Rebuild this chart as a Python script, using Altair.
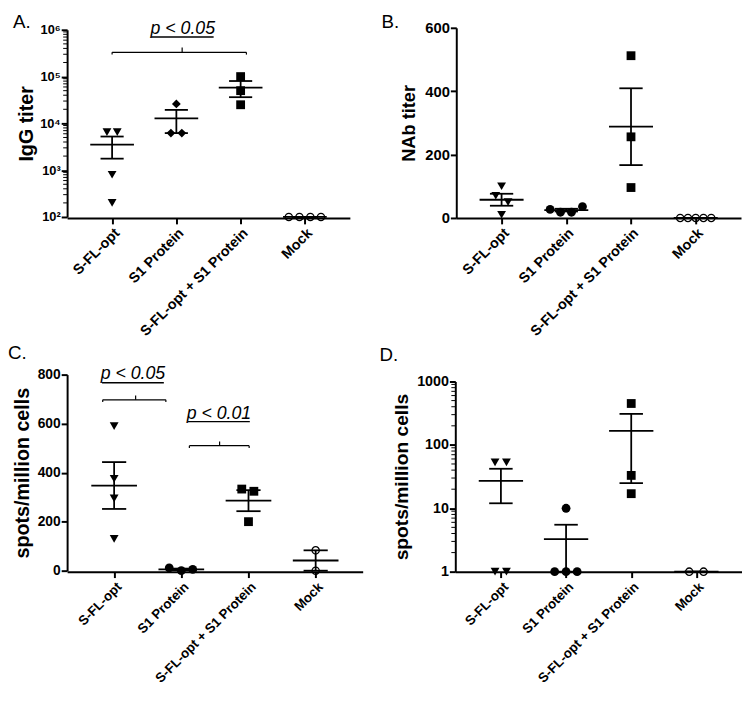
import json
import altair as alt
import numpy as np
import pandas as pd

FONT = "Liberation Sans"
INK = "#000000"

GROUPS = ["S-FL-opt", "S1 Protein", "S-FL-opt + S1 Protein", "Mock"]

# ---------------- Panel A: IgG titer (log) ----------------
A_sflopt = [6500, 6500, 800, 200]
A_sflopt_jit = [-0.08, 0.08, 0.0, 0.0]
A_s1 = [26000, 6200, 6200]
A_s1_jit = [0.0, -0.085, 0.085]
A_combo = [100000, 50000, 25000]
A_combo_jit = [0.0, 0.0, 0.0]
A_mock = [100, 100, 100, 100]
A_mock_jit = [-0.25, -0.085, 0.085, 0.25]

# ---------------- Panel B: NAb titer ----------------
B_sflopt = [100, 70, 50, 10]
B_sflopt_jit = [0.0, -0.09, 0.10, 0.0]
B_s1 = [27, 18, 18, 36]
B_s1_jit = [-0.25, -0.09, 0.08, 0.25]
B_combo = [512, 256, 96]
B_combo_jit = [0.0, 0.0, 0.0]
B_mock = [0, 0, 0, 0, 0]
B_mock_jit = [-0.24, -0.12, 0.0, 0.12, 0.24]

# ---------------- Panel C: spots/million cells ----------------
C_sflopt = [590, 375, 295, 130]
C_sflopt_jit = [0.0, 0.0, 0.0, 0.0]
C_s1 = [11, 0, 5]
C_s1_jit = [-0.18, 0.0, 0.17]
C_combo = [333, 324, 200]
C_combo_jit = [-0.10, 0.08, 0.0]
C_mock = [83, 0]
C_mock_jit = [0.0, 0.0]

# ---------------- Panel D: spots/million cells (log) ----------------
D_sflopt = [53, 53, 1, 1]
D_sflopt_jit = [-0.09, 0.085, -0.09, 0.085]
D_s1 = [10, 1, 1, 1]
D_s1_jit = [0.0, -0.175, 0.0, 0.17]
D_combo = [450, 33, 17]
D_combo_jit = [0.0, 0.0, 0.0]
D_mock = [1, 1]
D_mock_jit = [-0.11, 0.11]

# significance annotations:
# (x_left, x_right, x_mid, y_bar, y_end, y_mid_top, label, x_text, y_text, ul_left, ul_right, y_ul)
A_sig = [(0.0, 2.09, 1.09, 3.3e5, 2.95e5, 4.2e5, "p < 0.05", 1.10, 8.1e5, 0.61, 1.58, 7.0e5)]
C_sig = [
    (-0.17, 0.77, 0.32, 697, 688, 715, "p < 0.05", 0.28, 781, -0.18, 0.74, 767),
    (1.12, 2.01, 1.57, 510, 501, 527, "p < 0.01", 1.56, 618, 1.10, 2.02, 608),
]

MEAN_HALF = 0.34
CAP_HALF = 0.18
XDOM = [-0.7, 3.7]


def build_panel(series, shapes, letter, letter_dx, letter_dy, ytitle, ytitle_x,
                ytitle_size, yscale, yvalues, ylabel_expr, ylabel_size, width,
                height, xlabel_size, sig=None, minor=None):
    rows = []
    stats = []
    for gi, (vals, jit) in enumerate(series):
        for v, j in zip(vals, jit):
            rows.append(dict(x=gi + j, v=v, shape=shapes[gi], mock=(gi == 3)))
        a = np.asarray(vals, dtype=float)
        m = a.mean()
        s = a.std(ddof=1) / np.sqrt(len(a)) if len(a) > 1 else 0.0
        stats += [
            dict(x=gi - MEAN_HALF, x2=gi + MEAN_HALF, y=m, y2=m),
            dict(x=gi - CAP_HALF, x2=gi + CAP_HALF, y=m + s, y2=m + s),
            dict(x=gi - CAP_HALF, x2=gi + CAP_HALF, y=m - s, y2=m - s),
            dict(x=gi, x2=gi, y=m - s, y2=m + s),
        ]
    pts = pd.DataFrame(rows)
    st = pd.DataFrame(stats)

    xscale = alt.Scale(domain=XDOM, nice=False, zero=False)
    label_expr = json.dumps(GROUPS).replace('"', "'") + "[datum.value]"
    xaxis = alt.Axis(values=[0, 1, 2, 3], labelExpr=label_expr, labelAngle=-45,
                     labelAlign="right", labelFont=FONT, labelFontSize=xlabel_size,
                     labelFontWeight="bold", labelColor=INK, title=None, grid=False,
                     domainColor=INK, domainWidth=2, tickColor=INK, tickWidth=2,
                     tickSize=6, labelPadding=2, labelOverlap=False, labelFlush=False)
    yaxis = alt.Axis(values=yvalues, labelExpr=ylabel_expr, labelFont=FONT,
                     labelFontSize=ylabel_size, labelFontWeight="bold", labelColor=INK,
                     title=ytitle, titleFont=FONT, titleFontSize=ytitle_size,
                     titleFontWeight="bold", titleColor=INK, titleX=ytitle_x,
                     grid=False, domainColor=INK, domainWidth=2, tickColor=INK,
                     tickWidth=2, tickSize=6, labelPadding=1, labelFlush=False,
                     labelOverlap=False)

    X = lambda f: alt.X(f, scale=xscale, axis=xaxis)
    Y = lambda f: alt.Y(f, scale=yscale, axis=yaxis)

    bars = alt.Chart(st).mark_rule(color=INK, strokeWidth=1.8).encode(
        x=X("x:Q"), x2="x2:Q", y=Y("y:Q"), y2="y2:Q")
    filled = alt.Chart(pts).transform_filter("!datum.mock").mark_point(
        filled=True, color=INK, opacity=1
    ).encode(
        x=X("x:Q"), y=Y("v:Q"),
        shape=alt.Shape("shape:N", scale=None),
        size=alt.value(80),
    )
    open_pts = alt.Chart(pts).transform_filter("datum.mock").mark_point(
        filled=False, color=INK, strokeWidth=1.3, opacity=1, size=55, shape="circle"
    ).encode(x=X("x:Q"), y=Y("v:Q"))
    letter_layer = alt.Chart(pd.DataFrame({"t": [letter]})).mark_text(
        align="left", baseline="top", font=FONT, fontSize=19, color=INK
    ).encode(text="t:N", x=alt.value(letter_dx), y=alt.value(letter_dy))

    layers = [bars, open_pts, filled, letter_layer]

    if minor is not None:
        mt = pd.DataFrame({"m": minor})
        layers.append(alt.Chart(mt).mark_rule(color=INK, strokeWidth=1).encode(
            y=Y("m:Q"), x=alt.value(-4), x2=alt.value(0)))

    if sig:
        segs = []
        texts = []
        for (xl, xr, xm, yb, ye, yt, lab, xt, ytx, ul, ur, yu) in sig:
            segs += [
                dict(x=xl, x2=xr, y=yb, y2=yb, w=1.2),
                dict(x=xl, x2=xl, y=ye, y2=yb, w=1.2),
                dict(x=xr, x2=xr, y=ye, y2=yb, w=1.2),
                dict(x=xm, x2=xm, y=yb, y2=yt, w=1.2),
                dict(x=ul, x2=ur, y=yu, y2=yu, w=1.4),
            ]
            texts.append(dict(x=xt, y=ytx, label=lab))
        sg = pd.DataFrame(segs)
        layers.append(alt.Chart(sg).mark_rule(color=INK).encode(
            x=X("x:Q"), x2="x2:Q", y=Y("y:Q"), y2="y2:Q",
            strokeWidth=alt.StrokeWidth("w:Q", scale=None)))
        layers.append(alt.Chart(pd.DataFrame(texts)).mark_text(
            font=FONT, fontSize=18, fontStyle="italic", align="center",
            baseline="alphabetic", color=INK).encode(
            x=X("x:Q"), y=Y("y:Q"), text="label:N"))

    return alt.layer(*layers).properties(width=width, height=height)


def minor_ticks(lo_exp, hi_exp):
    return [m * 10 ** e for e in range(lo_exp, hi_exp) for m in range(2, 10)]


sup_expr = ("'10' + ['\u2070','\u00b9','\u00b2','\u00b3','\u2074','\u2075','\u2076']"
            "[round(log(datum.value)/LN10)]")

panelA = build_panel(
    [(A_sflopt, A_sflopt_jit), (A_s1, A_s1_jit), (A_combo, A_combo_jit), (A_mock, A_mock_jit)],
    ["triangle-down", "diamond", "square", "circle"],
    "A.", -55, -15, "IgG titer", -31, 20,
    alt.Scale(type="log", domain=[100, 1e6], nice=False, range=[192, 2]),
    [100, 1000, 10000, 100000, 1000000], sup_expr, 13, 287, 193, 14.5,
    sig=A_sig, minor=minor_ticks(2, 6))

panelB = build_panel(
    [(B_sflopt, B_sflopt_jit), (B_s1, B_s1_jit), (B_combo, B_combo_jit), (B_mock, B_mock_jit)],
    ["triangle-down", "circle", "square", "circle"],
    "B.", -76, -15, "NAb titer", -38, 18.5,
    alt.Scale(domain=[0, 600], nice=False, range=[193, 0]),
    [0, 200, 400, 600], "datum.label", 15, 289, 193, 14.5)

panelC = build_panel(
    [(C_sflopt, C_sflopt_jit), (C_s1, C_s1_jit), (C_combo, C_combo_jit), (C_mock, C_mock_jit)],
    ["triangle-down", "circle", "square", "circle"],
    "C.", -60, -31, "spots/million cells", -35, 20,
    alt.Scale(domain=[0, 800], nice=False, range=[199, 0]),
    [0, 200, 400, 600, 800], "datum.label", 14, 300, 200, 13.5,
    sig=C_sig)

panelD = build_panel(
    [(D_sflopt, D_sflopt_jit), (D_s1, D_s1_jit), (D_combo, D_combo_jit), (D_mock, D_mock_jit)],
    ["triangle-down", "circle", "square", "circle"],
    "D.", -77, -29, "spots/million cells", -45, 19.5,
    alt.Scale(type="log", domain=[1, 1000], nice=False, range=[200, 7]),
    [1, 10, 100, 1000], "format(datum.value, 'd')", 14.5, 291, 200, 13.5,
    minor=minor_ticks(0, 3))

top = alt.hconcat(panelA, panelB, spacing=32)
bottom = alt.hconcat(panelC, panelD, spacing=17)
chart = alt.vconcat(top, bottom, spacing=5).properties(
    padding=0, background="white"
).configure_view(strokeWidth=0)

chart.save("out.html", embed_options={"renderer": "svg", "actions": False})
